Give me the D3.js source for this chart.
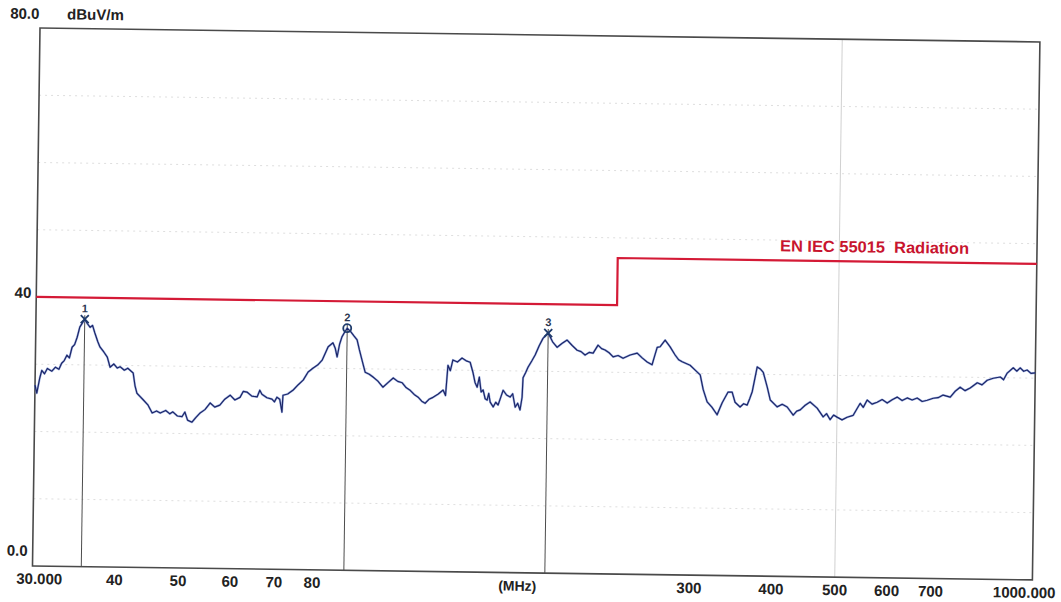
<!DOCTYPE html>
<html>
<head>
<meta charset="utf-8">
<script src="https://cdn.jsdelivr.net/npm/d3@7"></script>
<style>
  body { margin: 0; background: #fff; }
  svg { display: block; }
</style>
</head>
<body>
<svg id="chart" width="1061" height="602"></svg>
<script>
// Measured field strength (peak trace)
const freqMHz = [
  30.0, 30.2, 30.5, 30.7, 31.0, 31.3, 31.8, 32.2, 32.6, 32.9, 33.2, 33.5, 33.8, 34.1, 34.4, 34.7,
  35.0, 35.3, 35.6, 35.9, 36.3, 36.6, 36.9, 37.3, 37.6, 38.1, 38.6, 39.0, 39.5, 40.0, 40.4, 41.0,
  41.5, 42.3, 42.6, 42.9, 43.4, 43.9, 44.6, 45.3, 46.0, 46.6, 47.5, 48.2, 48.7, 49.5, 50.3, 50.8,
  51.3, 52.1, 52.8, 53.6, 54.5, 55.5, 56.4, 57.4, 58.4, 59.5, 60.5, 61.6, 62.3, 63.1, 64.2, 65.4,
  66.0, 66.5, 67.7, 68.9, 69.5, 70.1, 70.8, 71.4, 71.6, 72.8, 74.2, 75.5, 76.8, 78.1, 79.5, 80.8, 82.0, 83.7,
  85.1, 85.8, 86.4, 87.1, 87.8, 88.6, 89.4, 90.5, 91.5, 92.6, 93.4, 94.3, 95.4, 96.8, 98.1, 99.8,
  101.6, 103.4, 105.3, 107.0, 108.7, 110.2, 111.8, 113.4, 115.0, 116.5, 117.9, 119.5, 121.2, 123.4,
  125.5, 126.6, 127.5, 128.6, 129.7, 131.8, 133.9, 135.9, 137.8, 139.3, 140.3, 141.4, 142.4, 143.4,
  144.4, 145.5, 146.5, 147.3, 148.1, 149.7, 151.0, 152.3, 153.6, 154.9, 156.8, 158.8, 160.2, 161.7, 163.1,
  164.5, 165.6, 166.0, 167.5, 168.9, 171.0, 173.0, 175.4, 177.7, 179.3, 180.9, 183.8, 186.8, 190.1,
  193.4, 196.9, 200.4, 203.2, 206.1, 209.0, 212.0, 215.6, 218.3, 221.0, 224.2, 227.4, 231.4, 235.5,
  241.4, 247.4, 251.8, 256.3, 260.8, 263.0, 265.3, 268.1, 272.7, 277.6, 282.6, 286.2, 289.8, 298.0,
  303.4, 308.9, 312.4, 316.9, 322.5, 328.4, 331.2, 334.1, 340.9, 345.8, 349.5, 355.8, 360.2, 364.7,
  368.0, 371.0, 377.1, 381.2, 385.3, 391.0, 395.4, 405.2, 412.4, 419.7, 428.8, 434.0, 439.4, 447.0,
  454.7, 466.2, 476.3, 482.0, 488.2, 494.0, 500.1, 509.0, 518.1, 529.2, 535.6, 542.1, 548.0, 555.4, 565.0,
  575.2, 585.4, 595.9, 606.2, 616.9, 627.8, 639.0, 650.3, 661.9, 673.6, 685.5, 700.0, 712.0, 724.6,
  743.0, 756.0, 769.0, 782.5, 796.4, 816.4, 830.0, 845.3, 863.2, 884.8, 895.0, 906.3, 925.5, 937.0,
  948.4, 960.0, 971.8, 985.0, 1000.0
];
const levelDb = [
  26.9, 25.7, 28.0, 29.1, 28.6, 29.4, 29.0, 29.6, 29.3, 30.2, 30.6, 31.4, 31.0, 32.6, 33.0, 34.1,
  35.6, 36.2, 36.8, 36.2, 35.6, 35.9, 34.8, 33.5, 32.7, 32.0, 31.2, 29.7, 30.2, 29.6, 29.8, 29.3,
  29.6, 28.9, 27.0, 25.9, 25.4, 24.9, 24.2, 23.0, 23.3, 23.0, 23.4, 22.9, 23.2, 22.6, 22.5, 23.2,
  22.0, 21.7, 22.4, 23.1, 23.6, 24.6, 24.0, 24.3, 25.2, 25.8, 25.1, 25.5, 26.4, 26.3, 25.7, 25.6,
  26.6, 26.0, 25.5, 25.3, 24.9, 25.6, 25.3, 23.4, 25.9, 26.1, 26.7, 27.5, 28.2, 29.4, 30.0, 30.5, 31.2, 33.2,
  33.8, 33.0, 31.7, 33.6, 34.7, 35.4, 36.0, 35.5, 34.9, 34.3, 32.8, 31.3, 29.5, 29.2, 28.8, 28.2,
  27.3, 28.0, 28.7, 28.2, 28.0, 27.3, 26.9, 26.3, 25.9, 25.3, 25.0, 25.6, 25.9, 26.4,
  27.0, 26.2, 30.7, 29.9, 31.5, 31.2, 31.8, 31.4, 31.2, 29.6, 28.2, 27.5, 29.0, 26.8,
  27.1, 25.8, 25.6, 26.6, 25.3, 24.6, 25.3, 24.9, 26.0, 27.1, 26.4, 26.1, 26.6, 24.6, 25.2,
  24.2, 26.1, 29.0, 29.8, 30.6, 31.5, 32.4, 33.8, 34.9, 35.3, 35.7, 34.4, 33.6, 34.2,
  34.7, 33.9, 33.2, 33.0, 32.5, 32.9, 32.8, 34.0, 33.5, 33.3, 32.9, 32.3, 32.5, 32.1,
  32.6, 32.9, 32.2, 31.6, 31.2, 32.5, 33.8, 33.9, 34.9, 33.9, 32.7, 32.0, 31.7, 31.2,
  30.5, 29.8, 27.6, 25.8, 25.0, 23.9, 24.8, 25.7, 27.3, 27.3, 25.8, 25.1, 25.6, 25.4,
  26.4, 27.4, 31.1, 30.8, 30.3, 28.1, 26.2, 25.2, 25.6, 25.2, 24.0, 24.6, 24.8, 25.5,
  26.0, 25.1, 23.8, 24.3, 23.4, 24.1, 23.8, 23.4, 23.8, 24.1, 25.0, 25.9, 25.3, 26.4, 25.8,
  26.1, 26.5, 26.0, 26.5, 26.9, 26.4, 26.8, 26.5, 26.8, 26.3, 26.5, 26.8, 26.9, 27.3,
  27.0, 27.9, 28.5, 28.0, 28.4, 29.2, 28.9, 29.6, 29.9, 30.1, 29.7, 30.7, 31.5, 31.0,
  31.5, 31.0, 31.2, 30.7, 30.8
];

// Limit line (EN IEC 55015 radiated emission)
const limitFreq = [30, 230, 1000];
const limitLevel = [40, 47, 47];
const limitName = "EN IEC 55015  Radiation";

// Peak markers
const markerNo = ["1", "2", "3"];
const markerFreq = [35.6, 89.4, 180.9];
const markerLevel = [36.8, 36.0, 35.7];
const markerShape = ["x", "o", "x"];

// Axes
const xTickValues = [30, 40, 50, 60, 70, 80, 300, 400, 500, 600, 700, 1000];
const xTickLabels = ["30.000", "40", "50", "60", "70", "80", "300", "400", "500", "600", "700", "1000.000"];
const yTickValues = [80, 40, 0];
const yTickLabels = ["80.0", "40", "0.0"];
const yUnit = "dBuV/m";
const xUnit = "(MHz)";
const gridDb = [10, 20, 30, 50, 60, 70];
const gridFreq = [500];

const W = 1000, H = 538;
const svg = d3.select("#chart");
svg.append("rect").attr("width", 1061).attr("height", 602).attr("fill", "#fff");

// the printed sheet sits slightly tilted
const g = svg.append("g").attr("transform", "translate(40,28) rotate(0.8)");

const x = d3.scaleLog().domain([30, 1000]).range([0, W]);
const y = d3.scaleLinear().domain([0, 80]).range([H, 0]);

const labelFont = "'Liberation Sans', Arial, sans-serif";

// grid
g.append("g").selectAll("line").data(gridDb).join("line")
  .attr("x1", 0).attr("x2", W)
  .attr("y1", d => y(d)).attr("y2", d => y(d))
  .attr("stroke", "#d6d6d6").attr("stroke-width", 0.8)
  .attr("stroke-dasharray", "2,4");
g.append("g").selectAll("line").data(gridFreq).join("line")
  .attr("x1", d => x(d)).attr("x2", d => x(d))
  .attr("y1", 0).attr("y2", H)
  .attr("stroke", "#c4c4c4").attr("stroke-width", 0.8);

// frame
g.append("rect").attr("x", 0).attr("y", 0).attr("width", W).attr("height", H)
  .attr("fill", "none").attr("stroke", "#4a4a4a").attr("stroke-width", 1.6);

// y labels
g.append("g").selectAll("text").data(yTickValues).join("text")
  .attr("x", (d, i) => i === 0 ? -30 : -5)
  .attr("y", (d, i) => y(d) + (i === 0 ? -9 : i === 1 ? 1 : -10))
  .attr("text-anchor", (d, i) => i === 0 ? "start" : "end")
  .attr("font-family", labelFont).attr("font-weight", "bold").attr("font-size", 15)
  .attr("fill", "#222")
  .text((d, i) => yTickLabels[i]);
g.append("text").attr("x", 27).attr("y", y(80) - 9)
  .attr("font-family", labelFont).attr("font-weight", "bold").attr("font-size", 15)
  .attr("fill", "#222").text(yUnit);

// x labels
g.append("g").selectAll("text").data(xTickValues).join("text")
  .attr("x", (d, i) => x(d) + (i === 0 ? -16 : i === xTickValues.length - 1 ? -8 : 0))
  .attr("y", H + 18)
  .attr("text-anchor", (d, i) => i === 0 ? "start" : "middle")
  .attr("font-family", labelFont).attr("font-weight", "bold").attr("font-size", 15)
  .attr("fill", "#222")
  .text((d, i) => xTickLabels[i]);
g.append("text").attr("x", W * 0.485).attr("y", H + 18).attr("text-anchor", "middle")
  .attr("font-family", labelFont).attr("font-weight", "bold").attr("font-size", 14)
  .attr("fill", "#222").text(xUnit);

// limit line
const limitLine = d3.line().x(d => x(d[0])).y(d => y(d[1])).curve(d3.curveStepAfter);
g.append("path")
  .datum(limitFreq.map((f, i) => [f, limitLevel[i]]))
  .attr("d", limitLine)
  .attr("fill", "none").attr("stroke", "#d41a36").attr("stroke-width", 2.2);
g.append("text")
  .attr("x", W * 0.743).attr("y", y(limitLevel[2]) - 9)
  .attr("font-family", "'Liberation Sans Narrow', 'Liberation Sans', Arial, sans-serif")
  .attr("font-size", 16).attr("font-weight", "bold")
  .attr("textLength", 189).attr("lengthAdjust", "spacingAndGlyphs")
  .attr("fill", "#c8142e").attr("xml:space", "preserve")
  .text(limitName);

// marker drop lines
const markers = markerFreq.map((f, i) => ({ f, v: markerLevel[i], n: markerNo[i], s: markerShape[i] }));
g.append("g").selectAll("line").data(markers).join("line")
  .attr("x1", d => x(d.f)).attr("x2", d => x(d.f))
  .attr("y1", d => y(d.v) - 4).attr("y2", H)
  .attr("stroke", "#4d4d4d").attr("stroke-width", 1);

// trace
const trace = d3.line().x(d => x(d[0])).y(d => y(d[1]));
g.append("path")
  .datum(freqMHz.map((f, i) => [f, levelDb[i]]))
  .attr("d", trace)
  .attr("fill", "none").attr("stroke", "#5a78cc").attr("stroke-width", 2.2)
  .attr("stroke-opacity", 0.55).attr("stroke-linejoin", "round");
g.append("path")
  .datum(freqMHz.map((f, i) => [f, levelDb[i]]))
  .attr("d", trace)
  .attr("fill", "none").attr("stroke", "#1c2668").attr("stroke-width", 1.2)
  .attr("stroke-linejoin", "round");

// marker symbols
const mg = g.append("g").selectAll("g").data(markers).join("g")
  .attr("transform", d => `translate(${x(d.f)},${y(d.v)})`);
mg.filter(d => d.s === "x").append("path")
  .attr("d", "M-4,-4L4,4M4,-4L-4,4")
  .attr("stroke", "#1f3b6b").attr("stroke-width", 1.8).attr("fill", "none");
mg.filter(d => d.s === "o").append("circle")
  .attr("r", 4).attr("stroke", "#1f3b6b").attr("stroke-width", 1.8).attr("fill", "none");
mg.append("text")
  .attr("y", -7).attr("text-anchor", "middle")
  .attr("font-family", labelFont).attr("font-size", 11).attr("font-weight", "bold")
  .attr("fill", "#2b3550")
  .text(d => d.n);
</script>
</body>
</html>
